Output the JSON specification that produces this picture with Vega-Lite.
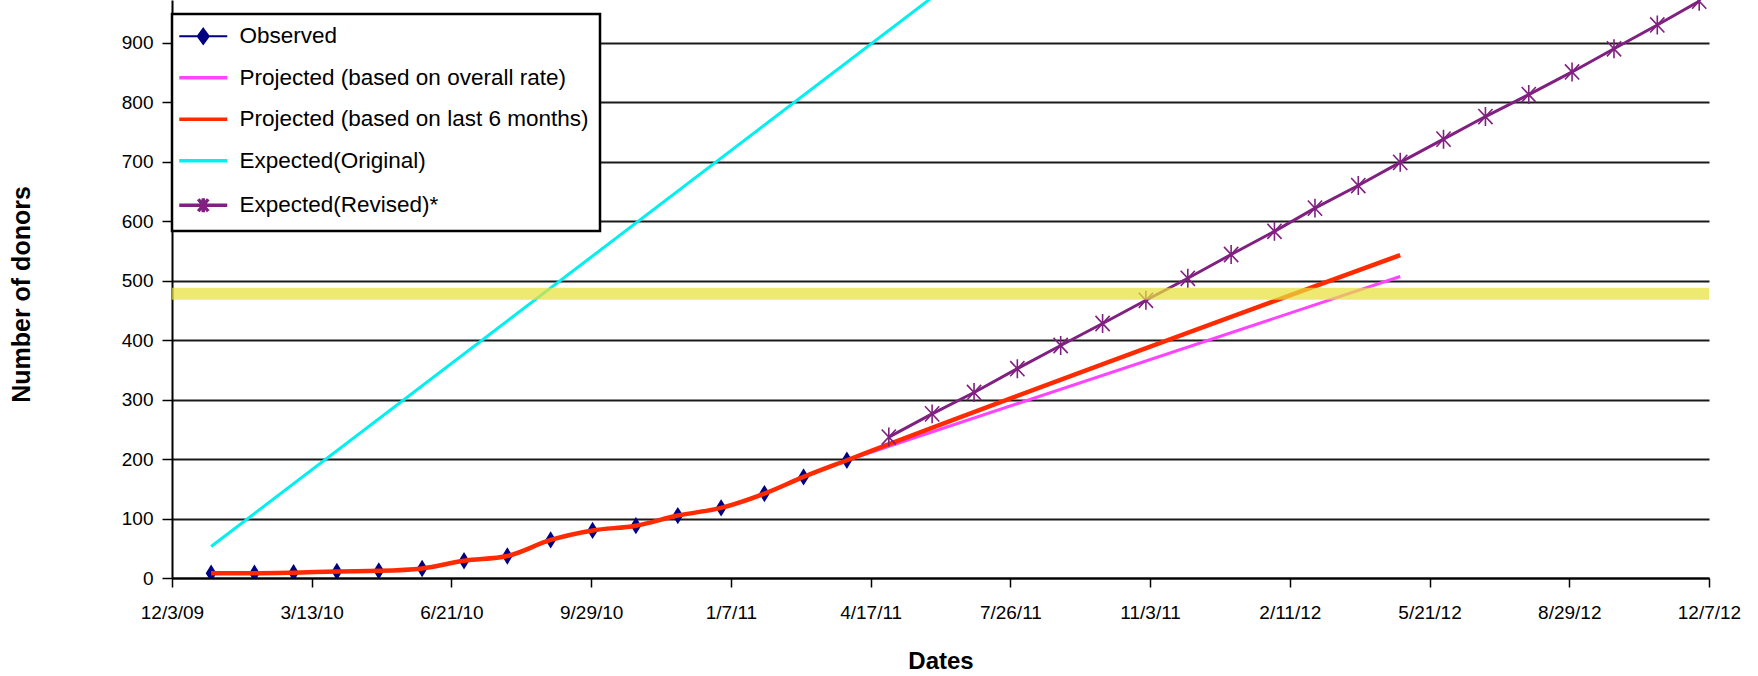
{
  "$schema": "https://vega.github.io/schema/vega-lite/v6.json",
  "width": 1537,
  "height": 578,
  "autosize": {"type": "none"},
  "padding": {"left": 172, "top": 0, "right": 49, "bottom": 98},
  "background": "white",
  "config": {"view": {"stroke": null}, "font": "Liberation Sans"},
  "data": {
    "values": [
      {"series": "Observed", "date": "2009/12/31", "value": 8},
      {"series": "Observed", "date": "2010/01/31", "value": 8},
      {"series": "Observed", "date": "2010/02/28", "value": 9},
      {"series": "Observed", "date": "2010/03/31", "value": 11},
      {"series": "Observed", "date": "2010/04/30", "value": 12},
      {"series": "Observed", "date": "2010/05/31", "value": 16},
      {"series": "Observed", "date": "2010/06/30", "value": 29},
      {"series": "Observed", "date": "2010/07/31", "value": 37},
      {"series": "Observed", "date": "2010/08/31", "value": 64},
      {"series": "Observed", "date": "2010/09/30", "value": 80},
      {"series": "Observed", "date": "2010/10/31", "value": 88},
      {"series": "Observed", "date": "2010/11/30", "value": 105},
      {"series": "Observed", "date": "2010/12/31", "value": 118},
      {"series": "Observed", "date": "2011/01/31", "value": 142},
      {"series": "Observed", "date": "2011/02/28", "value": 170},
      {"series": "Observed", "date": "2011/03/31", "value": 198},

      {"series": "Projected (based on last 6 months)", "date": "2009/12/31", "value": 8},
      {"series": "Projected (based on last 6 months)", "date": "2010/01/31", "value": 8},
      {"series": "Projected (based on last 6 months)", "date": "2010/02/28", "value": 9},
      {"series": "Projected (based on last 6 months)", "date": "2010/03/31", "value": 11},
      {"series": "Projected (based on last 6 months)", "date": "2010/04/30", "value": 12},
      {"series": "Projected (based on last 6 months)", "date": "2010/05/31", "value": 16},
      {"series": "Projected (based on last 6 months)", "date": "2010/06/30", "value": 29},
      {"series": "Projected (based on last 6 months)", "date": "2010/07/31", "value": 37},
      {"series": "Projected (based on last 6 months)", "date": "2010/08/31", "value": 64},
      {"series": "Projected (based on last 6 months)", "date": "2010/09/30", "value": 80},
      {"series": "Projected (based on last 6 months)", "date": "2010/10/31", "value": 88},
      {"series": "Projected (based on last 6 months)", "date": "2010/11/30", "value": 105},
      {"series": "Projected (based on last 6 months)", "date": "2010/12/31", "value": 118},
      {"series": "Projected (based on last 6 months)", "date": "2011/01/31", "value": 142},
      {"series": "Projected (based on last 6 months)", "date": "2011/02/28", "value": 170},
      {"series": "Projected (based on last 6 months)", "date": "2011/03/31", "value": 198},
      {"series": "Projected (based on last 6 months)", "date": "2012/04/30", "value": 543},

      {"series": "Projected (based on overall rate)", "date": "2011/03/31", "value": 198},
      {"series": "Projected (based on overall rate)", "date": "2012/04/30", "value": 507},

      {"series": "Expected(Original)", "date": "2009/12/31", "value": 53},
      {"series": "Expected(Original)", "date": "2011/06/30", "value": 1030},

      {"series": "Expected(Revised)*", "date": "2011/04/30", "value": 237},
      {"series": "Expected(Revised)*", "date": "2011/05/31", "value": 276},
      {"series": "Expected(Revised)*", "date": "2011/06/30", "value": 312},
      {"series": "Expected(Revised)*", "date": "2011/07/31", "value": 352},
      {"series": "Expected(Revised)*", "date": "2011/08/31", "value": 391},
      {"series": "Expected(Revised)*", "date": "2011/09/30", "value": 428},
      {"series": "Expected(Revised)*", "date": "2011/10/31", "value": 467},
      {"series": "Expected(Revised)*", "date": "2011/11/30", "value": 504},
      {"series": "Expected(Revised)*", "date": "2011/12/31", "value": 544},
      {"series": "Expected(Revised)*", "date": "2012/01/31", "value": 583},
      {"series": "Expected(Revised)*", "date": "2012/02/29", "value": 622},
      {"series": "Expected(Revised)*", "date": "2012/03/31", "value": 660},
      {"series": "Expected(Revised)*", "date": "2012/04/30", "value": 699},
      {"series": "Expected(Revised)*", "date": "2012/05/31", "value": 738},
      {"series": "Expected(Revised)*", "date": "2012/06/30", "value": 776},
      {"series": "Expected(Revised)*", "date": "2012/07/31", "value": 813},
      {"series": "Expected(Revised)*", "date": "2012/08/31", "value": 851},
      {"series": "Expected(Revised)*", "date": "2012/09/30", "value": 890},
      {"series": "Expected(Revised)*", "date": "2012/10/31", "value": 930},
      {"series": "Expected(Revised)*", "date": "2012/11/30", "value": 970}
    ]
  },
  "layer": [
    {
      "transform": [{"filter": "datum.series === 'Expected(Original)'"}],
      "mark": {"type": "line", "strokeWidth": 3, "clip": true},
      "encoding": {
        "x": {
          "field": "date", "type": "temporal",
          "scale": {"domain": [{"year": 2009, "month": 12, "date": 3}, {"year": 2012, "month": 12, "date": 7}]},
          "axis": {
            "values": [
              {"year": 2009, "month": 12, "date": 3},
              {"year": 2010, "month": 3, "date": 13},
              {"year": 2010, "month": 6, "date": 21},
              {"year": 2010, "month": 9, "date": 29},
              {"year": 2011, "month": 1, "date": 7},
              {"year": 2011, "month": 4, "date": 17},
              {"year": 2011, "month": 7, "date": 26},
              {"year": 2011, "month": 11, "date": 3},
              {"year": 2012, "month": 2, "date": 11},
              {"year": 2012, "month": 5, "date": 21},
              {"year": 2012, "month": 8, "date": 29},
              {"year": 2012, "month": 12, "date": 7}
            ],
            "format": "%-m/%-d/%y",
            "grid": false,
            "domainColor": "black", "domainWidth": 2,
            "tickColor": "black", "tickSize": 9, "tickWidth": 1.5,
            "labelFont": "Liberation Sans", "labelFontSize": 19, "labelColor": "black",
            "labelPadding": 16, "labelFlush": false, "labelOverlap": false,
            "title": "Dates", "titleFont": "Liberation Sans", "titleFontSize": 24, "titleFontWeight": "bold",
            "titleColor": "black", "titleY": 83, "titleBaseline": "middle"
          }
        },
        "y": {
          "field": "value", "type": "quantitative",
          "scale": {"domain": [0, 972], "nice": false},
          "axis": {
            "values": [0, 100, 200, 300, 400, 500, 600, 700, 800, 900],
            "grid": true, "gridColor": "#1a1a1a", "gridWidth": 2,
            "domainColor": "black", "domainWidth": 2,
            "tickColor": "black", "tickSize": 10, "tickWidth": 1.5,
            "labelFont": "Liberation Sans", "labelFontSize": 19, "labelColor": "black", "labelPadding": 9,
            "title": "Number of donors", "titleFont": "Liberation Sans", "titleFontSize": 25, "titleFontWeight": "bold",
            "titleColor": "black", "titleX": -151, "titleY": 294, "titleBaseline": "middle", "titleAlign": "center", "titleAngle": 270
          }
        },
        "color": {
          "field": "series", "type": "nominal",
          "scale": {
            "domain": ["Observed", "Projected (based on overall rate)", "Projected (based on last 6 months)", "Expected(Original)", "Expected(Revised)*"],
            "range": ["#000080", "#ff44ff", "#ff2a00", "#00f0f0", "#802080"]
          },
          "legend": {
            "title": null, "orient": "none", "legendX": 0, "legendY": 14, "direction": "vertical",
            "labelFont": "Liberation Sans", "labelFontSize": 22.5, "labelColor": "black", "labelLimit": 600,
            "symbolSize": 100, "symbolOffset": 9, "labelOffset": 25,
            "rowPadding": 18.5, "padding": 11,
            "strokeColor": "black", "fillColor": "white",
            "encode": {
              "legend": {"update": {"strokeWidth": {"value": 2.5}}},
              "symbols": {
                "update": {
                  "shape": {"signal": "datum.value === 'Observed' ? 'M-4.8,0H4.8M0,-1.5L1.1,0L0,1.5L-1.1,0Z' : (datum.value === 'Expected(Revised)*' ? 'M-4.8,0H4.8M-1,-1.2L1,1.2M-1,1.2L1,-1.2M0,-1.4V1.4' : 'M-4.8,0H4.8')"},
                  "fill": {"scale": "color", "field": "value"},
                  "stroke": {"scale": "color", "field": "value"},
                  "strokeWidth": {"signal": "datum.value === 'Observed' ? 2 : 3.5"},
                  "opacity": {"value": 1}
                }
              }
            }
          }
        }
      }
    },
    {
      "transform": [{"filter": "datum.series === 'Projected (based on overall rate)'"}],
      "mark": {"type": "line", "strokeWidth": 3, "clip": true},
      "encoding": {
        "x": {"field": "date", "type": "temporal"},
        "y": {"field": "value", "type": "quantitative"},
        "color": {"field": "series", "type": "nominal"}
      }
    },
    {
      "transform": [{"filter": "datum.series === 'Observed'"}],
      "mark": {"type": "line", "strokeWidth": 1.5, "clip": true},
      "encoding": {
        "x": {"field": "date", "type": "temporal"},
        "y": {"field": "value", "type": "quantitative"},
        "color": {"field": "series", "type": "nominal"}
      }
    },
    {
      "transform": [{"filter": "datum.series === 'Observed'"}],
      "mark": {"type": "point", "shape": "M0,-1L0.62,0L0,1L-0.62,0Z", "filled": true, "size": 300, "color": "#000080", "opacity": 1, "clip": true},
      "encoding": {
        "x": {"field": "date", "type": "temporal"},
        "y": {"field": "value", "type": "quantitative"}
      }
    },
    {
      "transform": [{"filter": "datum.series === 'Projected (based on last 6 months)'"}],
      "mark": {"type": "line", "strokeWidth": 4.5, "interpolate": "monotone", "clip": true},
      "encoding": {
        "x": {"field": "date", "type": "temporal"},
        "y": {"field": "value", "type": "quantitative"},
        "color": {"field": "series", "type": "nominal"}
      }
    },
    {
      "transform": [{"filter": "datum.series === 'Expected(Revised)*'"}],
      "mark": {"type": "line", "strokeWidth": 3, "clip": true},
      "encoding": {
        "x": {"field": "date", "type": "temporal"},
        "y": {"field": "value", "type": "quantitative"},
        "color": {"field": "series", "type": "nominal"}
      }
    },
    {
      "transform": [{"filter": "datum.series === 'Expected(Revised)*'"}],
      "mark": {"type": "point", "shape": "M-0.75,-0.8L0.75,0.8M-0.75,0.8L0.75,-0.8M0,-1V1", "filled": false, "size": 360, "stroke": "#802080", "strokeWidth": 1.6, "opacity": 1, "clip": true},
      "encoding": {
        "x": {"field": "date", "type": "temporal"},
        "y": {"field": "value", "type": "quantitative"}
      }
    },
    {
      "data": {"values": [{"label": "target", "value": 478}]},
      "mark": {"type": "rule", "color": "#e8e23a", "strokeWidth": 12, "opacity": 0.72},
      "encoding": {
        "y": {"field": "value", "type": "quantitative"}
      }
    }
  ]
}
